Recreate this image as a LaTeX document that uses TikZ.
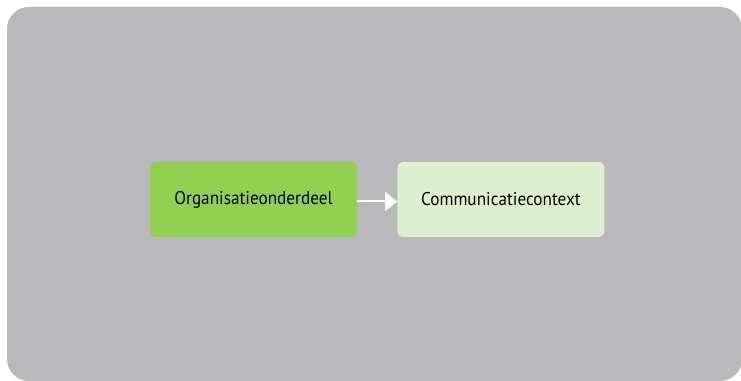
\documentclass[tikz,border=0pt]{standalone}
\usepackage{fontspec}
\setmainfont{PT Sans}[FakeStretch=0.93]
\usetikzlibrary{positioning,arrows.meta}
\definecolor{panelgray}{RGB}{185,185,187}
\definecolor{orggreen}{RGB}{146,208,80}
\definecolor{ctxgreen}{RGB}{221,239,204}
\tikzset{
  box/.style={rounded corners=6pt, minimum width=207pt, minimum height=75pt, inner sep=0pt, font=\fontsize{18.5}{21}\selectfont},
}
\begin{document}
\begin{tikzpicture}[x=1pt,y=1pt]
\useasboundingbox (0,0) rectangle (741,380);
% Panel
\begin{scope}
\clip (0,0) rectangle (741,380);
\fill[panelgray, rounded corners=22pt] (7,-1) rectangle (742,373);
\end{scope}

\node[box, fill=orggreen] (org) at (253.5,180.5) {Organisatieonderdeel};
\node[box, fill=ctxgreen, right=40pt of org] (ctx) {Communicatiecontext};

\draw[white, line width=2pt, -{Triangle[length=12pt,width=19pt]}] ([yshift=-2pt]org.east) -- ([yshift=-2pt]ctx.west);

\end{tikzpicture}
\end{document}
